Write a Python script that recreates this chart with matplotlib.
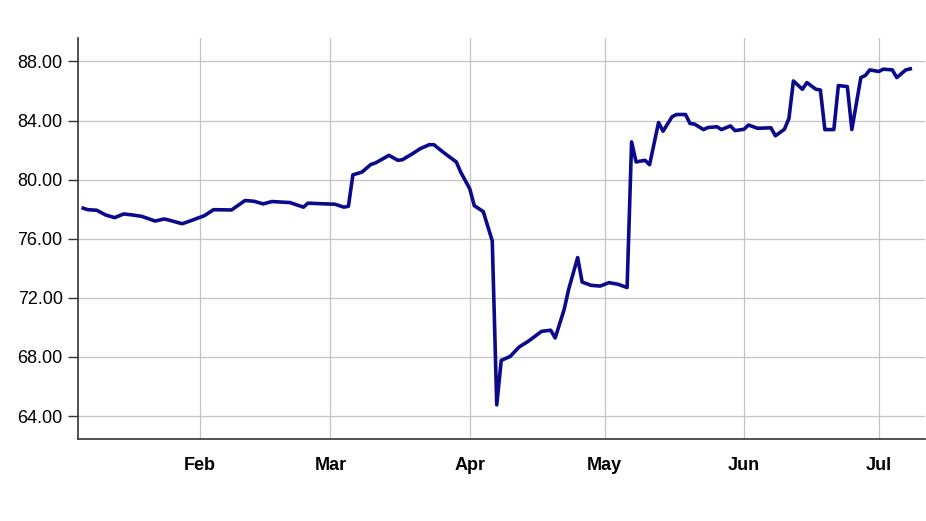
import matplotlib
matplotlib.use("Agg")
import matplotlib.pyplot as plt
import matplotlib.dates as mdates
from matplotlib.ticker import FormatStrFormatter
import pandas as pd

# values, one entry per visible vertex of the line
dates = [
    "2020-01-06", "2020-01-07", "2020-01-09", "2020-01-11", "2020-01-13",
    "2020-01-15", "2020-01-17", "2020-01-19", "2020-01-22", "2020-01-24",
    "2020-01-25", "2020-01-28", "2020-01-29", "2020-01-30",
    "2020-02-02", "2020-02-04", "2020-02-08", "2020-02-11", "2020-02-13",
    "2020-02-15", "2020-02-17", "2020-02-21", "2020-02-24", "2020-02-25",
    "2020-02-29",
    "2020-03-02", "2020-03-04", "2020-03-05", "2020-03-06", "2020-03-08",
    "2020-03-10", "2020-03-11", "2020-03-13", "2020-03-14", "2020-03-16",
    "2020-03-17", "2020-03-19", "2020-03-21", "2020-03-23", "2020-03-24",
    "2020-03-26", "2020-03-29", "2020-03-30",
    "2020-04-01", "2020-04-02", "2020-04-04", "2020-04-06", "2020-04-07",
    "2020-04-08", "2020-04-10", "2020-04-12", "2020-04-14", "2020-04-17",
    "2020-04-19", "2020-04-20", "2020-04-22", "2020-04-23", "2020-04-25",
    "2020-04-26", "2020-04-28", "2020-04-30",
    "2020-05-02", "2020-05-04", "2020-05-06", "2020-05-07", "2020-05-08",
    "2020-05-10", "2020-05-11", "2020-05-13", "2020-05-14", "2020-05-16",
    "2020-05-17", "2020-05-19", "2020-05-20", "2020-05-21", "2020-05-23",
    "2020-05-24", "2020-05-26", "2020-05-27", "2020-05-29", "2020-05-30",
    "2020-06-01", "2020-06-02", "2020-06-04", "2020-06-07", "2020-06-08",
    "2020-06-10", "2020-06-11", "2020-06-12", "2020-06-14", "2020-06-15",
    "2020-06-17", "2020-06-18", "2020-06-19", "2020-06-21", "2020-06-22",
    "2020-06-24", "2020-06-25", "2020-06-27", "2020-06-28", "2020-06-29",
    "2020-07-01", "2020-07-02", "2020-07-04", "2020-07-05", "2020-07-07",
    "2020-07-08",
]
values = [
    78.07, 77.97, 77.93, 77.61, 77.43,
    77.68, 77.61, 77.52, 77.20, 77.34,
    77.27, 77.02, 77.12, 77.23,
    77.57, 77.97, 77.95, 78.59, 78.54,
    78.36, 78.52, 78.45, 78.14, 78.41,
    78.36,
    78.34, 78.14, 78.20, 80.33, 80.51,
    81.03, 81.13, 81.47, 81.65, 81.31,
    81.35, 81.71, 82.10, 82.37, 82.37,
    81.88, 81.20, 80.50,
    79.38, 78.24, 77.84, 75.86, 64.76,
    67.77, 68.04, 68.68, 69.06, 69.74,
    69.81, 69.29, 71.22, 72.58, 74.73,
    73.07, 72.85, 72.80,
    73.03, 72.92, 72.70, 82.56, 81.20,
    81.31, 81.01, 83.87, 83.28, 84.26,
    84.41, 84.41, 83.80, 83.76, 83.39,
    83.53, 83.58, 83.39, 83.64, 83.32,
    83.41, 83.70, 83.48, 83.51, 82.97,
    83.41, 84.14, 86.68, 86.12, 86.57,
    86.12, 86.07, 83.39, 83.39, 86.37,
    86.30, 83.39, 86.91, 87.05, 87.43,
    87.32, 87.48, 87.43, 86.91, 87.43,
    87.50,
]
y_ticks = [64, 68, 72, 76, 80, 84, 88]

x = pd.to_datetime(dates)

plt.rcParams["font.family"] = ["Liberation Sans", "DejaVu Sans"]
fig = plt.figure(figsize=(9.26, 5.21), dpi=100)
ax = fig.add_axes([0.0842, 0.1574, 0.915, 0.770])

ax.plot(x, values, color="#0a0a8a", linewidth=2.6, solid_joinstyle="round")

ax.set_xlim(pd.Timestamp("2020-01-04 20:00"), pd.Timestamp("2020-07-11 08:00"))
ax.set_ylim(62.45, 89.6)
ax.set_yticks(y_ticks)
ax.yaxis.set_major_formatter(FormatStrFormatter("%.2f"))
ax.xaxis.set_major_locator(mdates.MonthLocator(bymonth=[2, 3, 4, 5, 6, 7]))
ax.xaxis.set_major_formatter(mdates.DateFormatter("%b"))

ax.grid(True, color="#c4c4c4", linewidth=0.9)
ax.set_axisbelow(True)
for s in ["top", "right"]:
    ax.spines[s].set_visible(False)
for s in ["left", "bottom"]:
    ax.spines[s].set_color("#333333")
    ax.spines[s].set_linewidth(1.2)

ax.tick_params(axis="y", length=7, width=1, color="#333333", labelsize=13, pad=4)
ax.tick_params(axis="x", length=0, labelsize=13, pad=13)
for lbl in ax.get_xticklabels():
    lbl.set_fontweight("bold")

fig.savefig("out.png", dpi=100)
